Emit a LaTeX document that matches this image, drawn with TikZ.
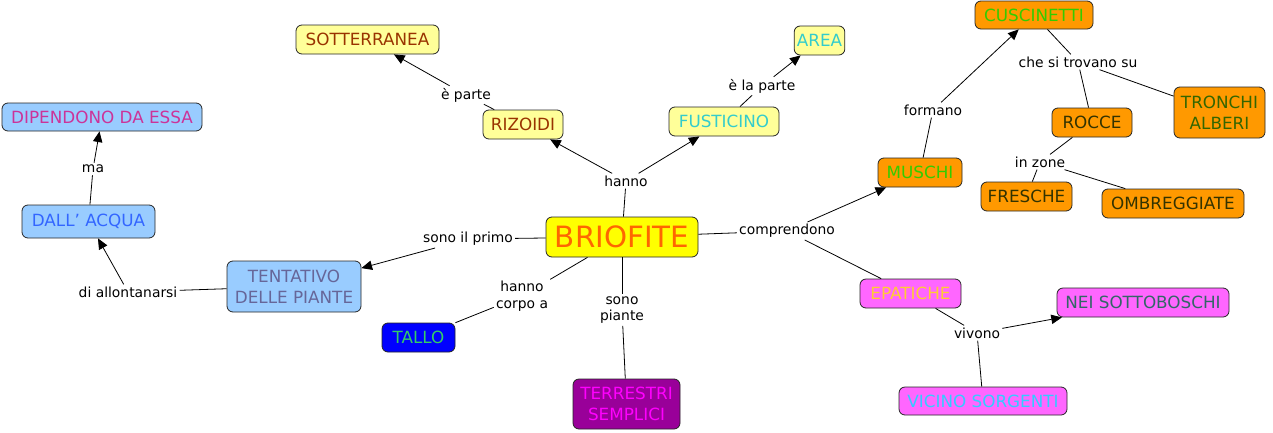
\documentclass[tikz,border=0pt]{standalone}
\usepackage{fontspec}
\setmainfont{DejaVu Sans}
\usetikzlibrary{arrows.meta}
\definecolor{cYel}{HTML}{FFFF00}
\definecolor{cOrT}{HTML}{FF6600}
\definecolor{cLY}{HTML}{FFFF99}
\definecolor{cBrn}{HTML}{993300}
\definecolor{cTeal}{HTML}{33CCCC}
\definecolor{cLB}{HTML}{99CCFF}
\definecolor{cMag}{HTML}{CC3399}
\definecolor{cBl}{HTML}{3366FF}
\definecolor{cSl}{HTML}{666699}
\definecolor{cBlue}{HTML}{0000FF}
\definecolor{cGr}{HTML}{33CC66}
\definecolor{cPur}{HTML}{990099}
\definecolor{cFuc}{HTML}{FF00FF}
\definecolor{cOra}{HTML}{FF9900}
\definecolor{cLime}{HTML}{33CC00}
\definecolor{cDk}{HTML}{333300}
\definecolor{cDG}{HTML}{336600}
\definecolor{cPink}{HTML}{FF66FF}
\definecolor{cGold}{HTML}{FFCC33}
\definecolor{cDT}{HTML}{336666}
\definecolor{cSky}{HTML}{33CCFF}
\tikzset{
  box/.style={draw=black!85, rounded corners=4.5pt, line width=0.6pt, inner sep=2pt, align=center, font=\fontsize{12.6}{16}\selectfont},
  lbl/.style={inner sep=1.5pt, align=center, font=\fontsize{10.4}{12.5}\selectfont},
  ln/.style={line width=0.6pt},
  arr/.style={ln, -{Triangle[length=8pt,width=7pt]}},
  wh/.style 2 args={minimum width=#1*0.75pt, minimum height=#2*0.75pt},
}
\begin{document}
\begin{tikzpicture}[x=0.75pt,y=-0.75pt]
\useasboundingbox (0,0) rectangle (1273,432);
% nodes
\node[box, wh={152}{40}, fill=cYel, text=cOrT, font=\fontsize{22}{26}\selectfont] (brio) at (622,237) {BRIOFITE};
\node[box, wh={80}{29}, fill=cLY, text=cBrn] (riz) at (523,124.5) {RIZOIDI};
\node[box, wh={143}{29}, fill=cLY, text=cBrn] (sott) at (367.5,39.5) {SOTTERRANEA};
\node[box, wh={110}{29}, fill=cLY, text=cTeal] (fust) at (724,121.5) {FUSTICINO};
\node[box, wh={45}{29}, fill=cLY, text=cTeal] (area) at (819.5,40.5) {AREA};
\node[box, wh={200}{28}, fill=cLB, text=cMag] (dip) at (102,117) {DIPENDONO DA ESSA};
\node[box, wh={133}{33}, fill=cLB, text=cBl] (acq) at (88.5,221.5) {DALL' ACQUA};
\node[box, wh={134}{51}, fill=cLB, text=cSl] (tent) at (294,286.5) {TENTATIVO\\DELLE PIANTE};
\node[box, wh={73}{29}, fill=cBlue, text=cGr] (tallo) at (418.5,337.5) {TALLO};
\node[box, wh={107}{50}, fill=cPur, text=cFuc] (terr) at (626.5,404) {TERRESTRI\\SEMPLICI};
\node[box, wh={84}{29}, fill=cOra, text=cLime] (musc) at (920,172.5) {MUSCHI};
\node[box, wh={118}{28}, fill=cOra, text=cLime] (cusc) at (1034,15) {CUSCINETTI};
\node[box, wh={80}{29}, fill=cOra, text=cDk] (rocce) at (1092,122.5) {ROCCE};
\node[box, wh={91}{51}, fill=cOra, text=cDG] (tron) at (1219.5,112.5) {TRONCHI\\ALBERI};
\node[box, wh={91}{29}, fill=cOra, text=cDk] (fres) at (1026.5,196.5) {FRESCHE};
\node[box, wh={142}{29}, fill=cOra, text=cDk] (omb) at (1173,203.5) {OMBREGGIATE};
\node[box, wh={101}{29}, fill=cPink, text=cGold] (epat) at (910.5,293.5) {EPATICHE};
\node[box, wh={172}{29}, fill=cPink, text=cDT] (nei) at (1143,302.5) {NEI SOTTOBOSCHI};
\node[box, wh={168}{28}, fill=cPink, text=cSky] (vic) at (983,401) {VICINO SORGENTI};
% labels
\node[lbl] (lhanno) at (626,181) {hanno};
\node[lbl] (lepar) at (466,95) {è parte};
\node[lbl] (lelap) at (762,86) {è la parte};
\node[lbl] (lprimo) at (468,239) {sono il primo};
\node[lbl] (lallon) at (128,292) {di allontanarsi};
\node[lbl] (lma) at (93,169) {ma};
\node[lbl] (lcorpo) at (522,296) {hanno\\corpo a};
\node[lbl] (lpiante) at (622,310) {sono\\piante};
\node[lbl] (lcompr) at (787,231) {comprendono};
\node[lbl] (lform) at (933,110) {formano};
\node[lbl] (ltrov) at (1078,62) {che si trovano su};
\node[lbl] (lzone) at (1040,162) {in zone};
\node[lbl] (lviv) at (977,333) {vivono};
% connectors
\draw[ln] (brio) -- (lhanno);
\draw[arr] (lhanno) -- (riz);
\draw[arr] (lhanno) -- (fust);
\draw[ln] (riz) -- (lepar);
\draw[arr] (lepar) -- (sott);
\draw[ln] (fust) -- (lelap);
\draw[arr] (lelap) -- (area);
\draw[ln] (brio) -- (lprimo);
\draw[arr] (lprimo) -- (tent);
\draw[ln] (tent) -- (lallon);
\draw[arr] (lallon) -- (acq);
\draw[ln] (acq) -- (lma);
\draw[arr] (lma) -- (dip);
\draw[ln] (brio) -- (lcorpo);
\draw[ln] (lcorpo) -- (tallo);
\draw[ln] (brio) -- (lpiante);
\draw[ln] (lpiante) -- (terr);
\draw[ln] (brio) -- (lcompr);
\draw[arr] (lcompr) -- (musc);
\draw[ln] (lcompr) -- (epat);
\draw[ln] (musc) -- (lform);
\draw[arr] (lform) -- (cusc);
\draw[ln] (cusc) -- (ltrov);
\draw[ln] (ltrov) -- (rocce);
\draw[ln] (ltrov) -- (tron);
\draw[ln] (rocce) -- (lzone);
\draw[ln] (lzone) -- (fres);
\draw[ln] (lzone) -- (omb);
\draw[ln] (epat) -- (lviv);
\draw[arr] (lviv) -- (nei);
\draw[ln] (lviv) -- (vic);
\end{tikzpicture}
\end{document}
